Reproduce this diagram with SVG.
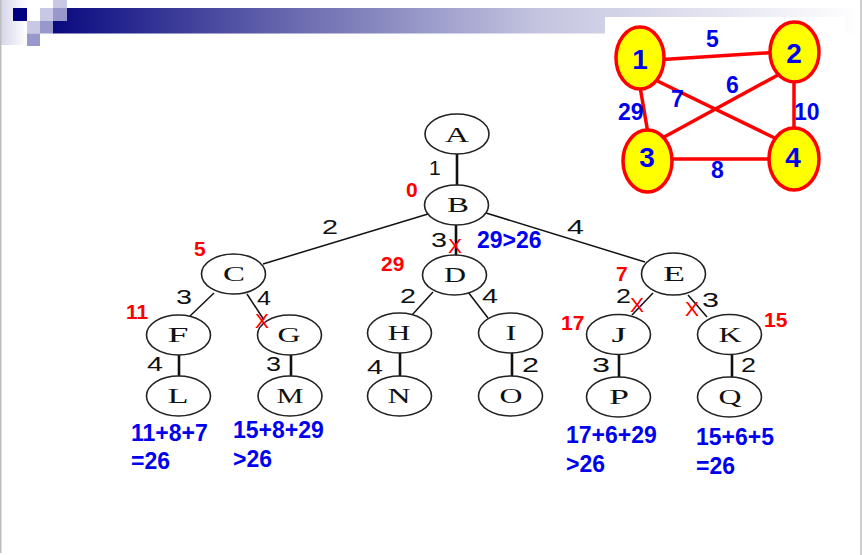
<svg xmlns="http://www.w3.org/2000/svg" width="862" height="555" viewBox="0 0 862 555">
<defs>
<linearGradient id="band" x1="53" y1="0" x2="862" y2="0" gradientUnits="userSpaceOnUse">
<stop offset="0" stop-color="#0a0a80"/>
<stop offset="0.3" stop-color="#6a6ab0"/>
<stop offset="0.6" stop-color="#c4c4e0"/>
<stop offset="1" stop-color="#ffffff"/>
</linearGradient>
<linearGradient id="edge" x1="0" y1="0" x2="27" y2="0" gradientUnits="userSpaceOnUse">
<stop offset="0" stop-color="#d4d4ea"/>
<stop offset="1" stop-color="#ffffff"/>
</linearGradient>
<style>
.nd{fill:#ffffff;stroke:#222;stroke-width:1.6}
.nl{font-family:"Liberation Serif",serif;font-size:21px;fill:#111;text-anchor:middle}
.thick{stroke:#111;stroke-width:2.6;fill:none}
.thin{stroke:#111;stroke-width:1.5;fill:none}
.w{font-family:"Liberation Sans",Arial,sans-serif;font-size:21px;fill:#111}
.r{font-family:"Liberation Sans",Arial,sans-serif;font-size:21px;font-weight:bold;fill:#ff0000}
.b{font-family:"Liberation Sans",Arial,sans-serif;font-size:23px;font-weight:bold;fill:#0000ee}
.x{font-family:"Liberation Sans",Arial,sans-serif;font-size:21px;fill:#ff0000;text-anchor:middle}
.ge{stroke:#ff0000;stroke-width:3.5;fill:none}
.gn{fill:#ffff00;stroke:#ff0000;stroke-width:3.5}
.gl{font-family:"Liberation Sans",Arial,sans-serif;font-size:28px;font-weight:bold;fill:#0000ee;text-anchor:middle}
.gw{font-family:"Liberation Sans",Arial,sans-serif;font-size:23px;font-weight:bold;fill:#0000ee}
</style>
</defs>
<rect x="0" y="0" width="862" height="555" fill="#ffffff"/>
<!-- header decoration -->
<g id="header">
<rect x="0" y="0" width="27" height="45" fill="url(#edge)"/>
<rect x="67" y="8" width="795" height="13" fill="url(#band)"/>
<rect x="53" y="21" width="809" height="12.5" fill="url(#band)"/>
<rect x="13" y="8" width="14" height="13" fill="#000080"/>
<rect x="40" y="8" width="13" height="13" fill="#c8c8e4"/>
<rect x="53" y="8" width="14" height="13" fill="#9898cc"/>
<rect x="53" y="0" width="14" height="8" fill="#c8c8e4"/>
<rect x="27" y="21" width="13" height="12.5" fill="#c8c8e4"/>
<rect x="40" y="21" width="13" height="12.5" fill="#9898cc"/>
<rect x="27" y="33.5" width="13" height="12.5" fill="#9898cc"/>
<rect x="0" y="0" width="1.5" height="553" fill="#bdbdbd"/>
<rect x="860" y="0" width="2" height="555" fill="#cfcfcf"/>
</g>
<!-- small graph -->
<rect x="605" y="17" width="240" height="185" fill="#ffffff"/>
<g id="graph-edges">
<line class="ge" x1="655" y1="60" x2="780" y2="52"/>
<line class="ge" x1="638" y1="75" x2="650" y2="145"/>
<line class="ge" x1="645" y1="75" x2="785" y2="143"/>
<line class="ge" x1="787" y1="70" x2="655" y2="142"/>
<line class="ge" x1="794" y1="70" x2="794" y2="140"/>
<line class="ge" x1="650" y1="159" x2="790" y2="159"/>
</g>
<g id="g1"><ellipse class="gn" cx="640" cy="58" rx="24" ry="31"/><text class="gl" x="640" y="69">1</text></g>
<g id="g2"><ellipse class="gn" cx="794.5" cy="52" rx="24.5" ry="30"/><text class="gl" x="794" y="63">2</text></g>
<g id="g3"><ellipse class="gn" cx="647.5" cy="161" rx="24.5" ry="31"/><text class="gl" x="647" y="167">3</text></g>
<g id="g4"><ellipse class="gn" cx="794" cy="159" rx="25" ry="31"/><text class="gl" x="793" y="167">4</text></g>
<g id="graph-weights">
<text class="gw" x="706" y="47">5</text>
<text class="gw" x="726" y="93">6</text>
<text class="gw" x="671" y="107">7</text>
<text class="gw" x="618" y="120">29</text>
<text class="gw" x="794" y="120">10</text>
<text class="gw" x="711" y="178">8</text>
</g>
<!-- tree connectors -->
<g id="connectors">
<line class="thick" x1="457" y1="154" x2="457" y2="185"/>
<line class="thin" x1="428" y1="214" x2="263" y2="264"/>
<line class="thin" x1="486" y1="213" x2="645" y2="262"/>
<line class="thick" x1="456" y1="225" x2="456" y2="256"/>
<line class="thin" x1="214" y1="293" x2="190" y2="316" stroke-width="1.8"/>
<line class="thin" x1="247" y1="294" x2="264" y2="320" stroke-width="2"/>
<line class="thick" x1="179" y1="355" x2="179" y2="376"/>
<line class="thick" x1="291" y1="355" x2="291" y2="376"/>
<line class="thin" x1="433" y1="292" x2="412" y2="315" stroke-width="1.8"/>
<line class="thin" x1="468" y1="292" x2="488" y2="318" stroke-width="1.8"/>
<line class="thick" x1="400" y1="353" x2="400" y2="377"/>
<line class="thick" x1="512" y1="353" x2="512" y2="377"/>
<line class="thin" x1="653" y1="293" x2="632" y2="315" stroke-width="1.8"/>
<line class="thin" x1="688" y1="295" x2="707" y2="317" stroke-width="2"/>
<line class="thick" x1="619" y1="355" x2="619" y2="377"/>
<line class="thick" x1="732" y1="355" x2="732" y2="377"/>
</g>
<!-- tree nodes -->
<g id="A"><ellipse class="nd" cx="457" cy="134" rx="32" ry="20"/><text class="nl" x="457" y="142" textLength="24" lengthAdjust="spacingAndGlyphs">A</text></g>
<g id="B"><ellipse class="nd" cx="456.5" cy="205" rx="32" ry="20"/><text class="nl" x="458" y="212" textLength="22" lengthAdjust="spacingAndGlyphs">B</text></g>
<g id="C"><ellipse class="nd" cx="233.5" cy="274" rx="32" ry="20"/><text class="nl" x="234" y="281" textLength="22" lengthAdjust="spacingAndGlyphs">C</text></g>
<g id="D"><ellipse class="nd" cx="454.5" cy="275" rx="32" ry="20"/><text class="nl" x="455" y="282" textLength="22" lengthAdjust="spacingAndGlyphs">D</text></g>
<g id="E"><ellipse class="nd" cx="673.5" cy="274" rx="32" ry="21"/><text class="nl" x="674" y="281" textLength="22" lengthAdjust="spacingAndGlyphs">E</text></g>
<g id="F"><ellipse class="nd" cx="178.5" cy="335" rx="32" ry="20"/><text class="nl" x="178" y="342" textLength="21" lengthAdjust="spacingAndGlyphs">F</text></g>
<g id="G"><ellipse class="nd" cx="289.5" cy="335" rx="32" ry="20"/><text class="nl" x="289" y="342" textLength="23" lengthAdjust="spacingAndGlyphs">G</text></g>
<g id="H"><ellipse class="nd" cx="399.5" cy="333" rx="32" ry="20"/><text class="nl" x="399" y="340" textLength="23" lengthAdjust="spacingAndGlyphs">H</text></g>
<g id="I"><ellipse class="nd" cx="510.5" cy="333" rx="32" ry="20"/><text class="nl" x="511" y="340" textLength="11" lengthAdjust="spacingAndGlyphs">I</text></g>
<g id="J"><ellipse class="nd" cx="618.5" cy="334.5" rx="32" ry="20"/><text class="nl" x="619" y="342" textLength="15" lengthAdjust="spacingAndGlyphs">J</text></g>
<g id="K"><ellipse class="nd" cx="729.5" cy="334.5" rx="32" ry="20"/><text class="nl" x="730" y="342" textLength="23" lengthAdjust="spacingAndGlyphs">K</text></g>
<g id="L"><ellipse class="nd" cx="178.5" cy="396" rx="32" ry="20"/><text class="nl" x="178" y="403" textLength="21" lengthAdjust="spacingAndGlyphs">L</text></g>
<g id="M"><ellipse class="nd" cx="290" cy="396" rx="32" ry="20"/><text class="nl" x="290" y="403" textLength="27" lengthAdjust="spacingAndGlyphs">M</text></g>
<g id="N"><ellipse class="nd" cx="399.5" cy="396" rx="32" ry="20"/><text class="nl" x="399" y="403" textLength="23" lengthAdjust="spacingAndGlyphs">N</text></g>
<g id="O"><ellipse class="nd" cx="510.5" cy="396" rx="32" ry="20"/><text class="nl" x="511" y="403" textLength="23" lengthAdjust="spacingAndGlyphs">O</text></g>
<g id="P"><ellipse class="nd" cx="618.5" cy="397" rx="32" ry="20"/><text class="nl" x="619" y="404" textLength="20" lengthAdjust="spacingAndGlyphs">P</text></g>
<g id="Q"><ellipse class="nd" cx="729.5" cy="397" rx="32" ry="20"/><text class="nl" x="730" y="404" textLength="23" lengthAdjust="spacingAndGlyphs">Q</text></g>
<!-- edge weights -->
<g id="weights">
<text class="w" x="429" y="175">1</text>
<text class="w" x="322" y="234" textLength="16" lengthAdjust="spacingAndGlyphs">2</text>
<text class="w" x="431" y="247" textLength="16" lengthAdjust="spacingAndGlyphs">3</text>
<text class="w" x="567" y="234" textLength="17" lengthAdjust="spacingAndGlyphs">4</text>
<text class="w" x="176" y="304" textLength="16" lengthAdjust="spacingAndGlyphs">3</text>
<text class="w" x="257" y="305" textLength="14" lengthAdjust="spacingAndGlyphs">4</text>
<text class="w" x="147" y="371" textLength="16" lengthAdjust="spacingAndGlyphs">4</text>
<text class="w" x="266" y="371" textLength="15" lengthAdjust="spacingAndGlyphs">3</text>
<text class="w" x="400" y="303" textLength="16" lengthAdjust="spacingAndGlyphs">2</text>
<text class="w" x="482" y="303" textLength="16" lengthAdjust="spacingAndGlyphs">4</text>
<text class="w" x="367" y="374" textLength="16" lengthAdjust="spacingAndGlyphs">4</text>
<text class="w" x="522" y="372" textLength="17" lengthAdjust="spacingAndGlyphs">2</text>
<text class="w" x="616" y="303" textLength="15" lengthAdjust="spacingAndGlyphs">2</text>
<text class="w" x="702" y="307" textLength="17" lengthAdjust="spacingAndGlyphs">3</text>
<text class="w" x="592" y="372" textLength="18" lengthAdjust="spacingAndGlyphs">3</text>
<text class="w" x="741" y="372" textLength="15" lengthAdjust="spacingAndGlyphs">2</text>
</g>
<!-- pruning marks -->
<g id="marks">
<text class="x" x="455" y="253">X</text>
<text class="x" x="262" y="328">X</text>
<text class="x" x="637" y="312">X</text>
<text class="x" x="692" y="316">X</text>
</g>
<!-- cost labels -->
<g id="costs">
<text class="r" x="406" y="197">0</text>
<text class="r" x="194" y="256">5</text>
<text class="r" x="126" y="319">11</text>
<text class="r" x="381" y="271">29</text>
<text class="r" x="616" y="281" font-size="22">7</text>
<text class="r" x="561" y="330">17</text>
<text class="r" x="764" y="327">15</text>
</g>
<g id="notes">
<text class="b" x="477" y="248">29&gt;26</text>
<text class="b" x="131" y="441">11+8+7</text>
<text class="b" x="131" y="469">=26</text>
<text class="b" x="233" y="438">15+8+29</text>
<text class="b" x="233" y="467">&gt;26</text>
<text class="b" x="566" y="443">17+6+29</text>
<text class="b" x="566" y="472">&gt;26</text>
<text class="b" x="696" y="445">15+6+5</text>
<text class="b" x="696" y="474">=26</text>
</g>
</svg>
